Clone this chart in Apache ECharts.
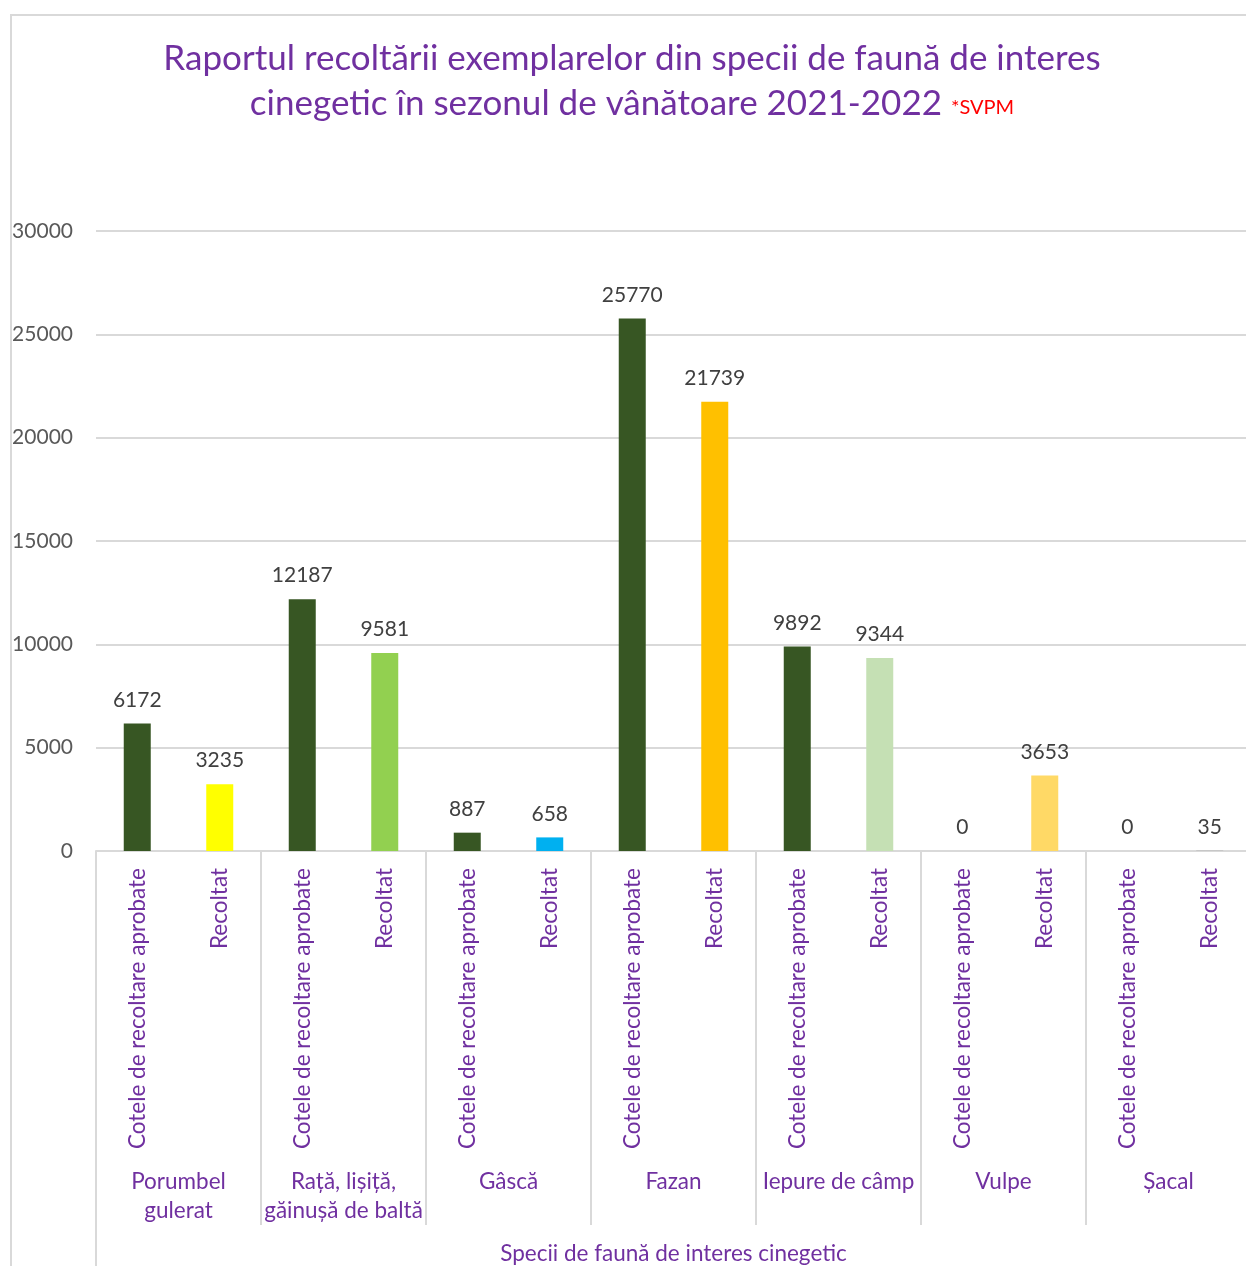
<!DOCTYPE html>
<html>
<head>
<meta charset="utf-8">
<script src="https://cdn.jsdelivr.net/npm/echarts@6/dist/echarts.min.js"></script>
<style>
  html, body { margin: 0; padding: 0; overflow: hidden; background: #fff; }
  #chart { position: absolute; left: 0; top: 0; width: 1264px; height: 1266px; }
  #frame { position: absolute; left: 10px; top: 14px; width: 1300px; height: 1300px;
           border-left: 2px solid #d9d9d9; border-top: 2px solid #d9d9d9; pointer-events: none; }
</style>
</head>
<body>
<div id="chart"></div>
<div id="frame"></div>
<script>
// data
const groups = ['Porumbel\ngulerat', 'Rață, lișiță,\ngăinușă de baltă', 'Gâscă', 'Fazan', 'Iepure de câmp', 'Vulpe', 'Șacal']
const subLabels = ['Cotele de recoltare aprobate', 'Recoltat']
const cote = [6172, 12187, 887, 25770, 9892, 0, 0]
const recoltat = [3235, 9581, 658, 21739, 9344, 3653, 35]
const coteColor = '#375623'
const recoltatColors = ['#FFFF00', '#92D050', '#00B0F0', '#FFC000', '#C5E0B4', '#FFD966', '#BFBFBF']
const yTicks = { min: 0, max: 30000, interval: 5000 }

const purple = '#7030A0'
const font = 'Lato'

// flatten to one category per bar
const cats = []
const barData = []
groups.forEach((g, i) => {
  cats.push(subLabels[0])
  barData.push({ value: cote[i], itemStyle: { color: coteColor } })
  cats.push(subLabels[1])
  barData.push({ value: recoltat[i], itemStyle: { color: recoltatColors[i] } })
})

const chart = echarts.init(document.getElementById('chart'), null, { renderer: 'canvas' })
chart.setOption({
  backgroundColor: '#fff',
  animation: false,
  title: {
    text: 'Raportul recoltării exemplarelor din specii de faună de interes\ncinegetic în sezonul de vânătoare 2021-2022 {s|*SVPM}',
    left: 'center',
    top: 36,
    padding: 0,
    textStyle: {
      fontFamily: font,
      fontSize: 35,
      fontWeight: 'normal',
      color: purple,
      lineHeight: 45,
      rich: {
        s: { fontFamily: font, fontSize: 20, color: '#FF0000', lineHeight: 45, padding: [8, 0, 0, 0] },
      },
    },
  },
  grid: {
    left: 96,
    top: 231,
    width: 1155,
    height: 620,
    containLabel: false,
    outerBoundsMode: 'none',
  },
  xAxis: [
    {
      type: 'category',
      data: cats,
      axisLine: { lineStyle: { color: '#d9d9d9', width: 2 } },
      axisTick: { show: false },
      axisLabel: {
        interval: 0,
        rotate: 90,
        margin: 17,
        fontFamily: font,
        fontSize: 22.5,
        color: purple,
      },
    },
    {
      type: 'category',
      data: groups,
      position: 'bottom',
      axisLine: { show: false },
      axisTick: { show: true, interval: 0, length: 374, lineStyle: { color: '#d9d9d9', width: 2 } },
      axisLabel: {
        interval: 0,
        margin: 316,
        fontFamily: font,
        fontSize: 22.5,
        lineHeight: 29,
        color: purple,
      },
    },
    {
      type: 'category',
      data: [''],
      position: 'bottom',
      name: 'Specii de faună de interes cinegetic',
      nameLocation: 'middle',
      nameGap: 391,
      nameTextStyle: { fontFamily: font, fontSize: 22.5, color: purple },
      axisLine: { show: false },
      axisTick: { show: true, length: 420, lineStyle: { color: '#d9d9d9', width: 2 } },
      axisLabel: { show: false },
    },
  ],
  yAxis: {
    type: 'value',
    min: yTicks.min,
    max: yTicks.max,
    interval: yTicks.interval,
    axisLine: { show: false },
    axisTick: { show: false },
    splitLine: { lineStyle: { color: '#d9d9d9', width: 2 } },
    axisLabel: {
      margin: 23,
      formatter: v => String(v),
      fontFamily: font,
      fontSize: 21,
      color: '#595959',
    },
  },
  series: [
    {
      type: 'bar',
      xAxisIndex: 0,
      data: barData,
      barWidth: 27,
      label: {
        show: true,
        position: 'top',
        distance: 13,
        fontFamily: font,
        fontSize: 21,
        color: '#404040',
      },
    },
  ],
})
</script>
</body>
</html>
